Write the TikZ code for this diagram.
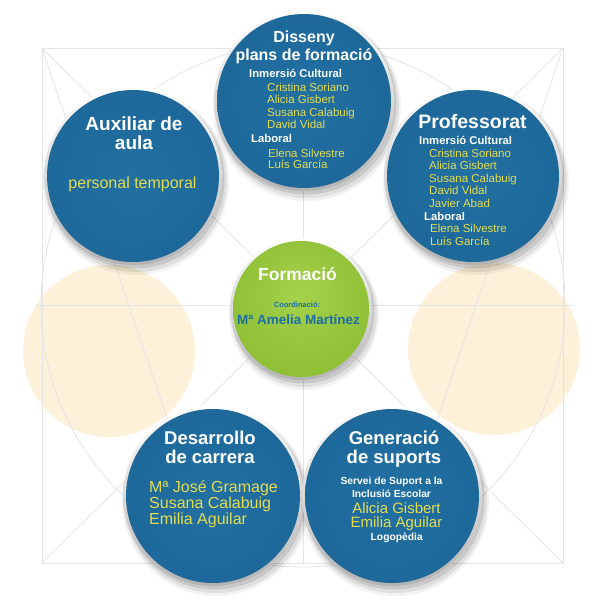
\documentclass[tikz,border=0pt]{standalone}
\usepackage{fontspec}
\setmainfont{Liberation Sans}
\definecolor{btnA}{RGB}{34,112,163}
\definecolor{btnB}{RGB}{29,103,153}
\definecolor{btnC}{RGB}{20,76,118}
\definecolor{grnA}{RGB}{165,210,75}
\definecolor{grnB}{RGB}{140,190,52}
\definecolor{grnC}{RGB}{98,150,30}
\definecolor{nameyel}{RGB}{228,220,78}
\definecolor{peach}{RGB}{253,241,217}
\definecolor{bgline}{RGB}{228,228,228}
\definecolor{coordblue}{RGB}{28,110,165}
\pgfdeclareradialshading{bluedisk}{\pgfpoint{0bp}{0bp}}{color(0bp)=(btnA); color(28bp)=(btnB); color(44bp)=(btnB); color(50bp)=(btnC)}
\pgfdeclareradialshading{greendisk}{\pgfpoint{0bp}{6bp}}{color(0bp)=(grnA); color(30bp)=(grnB); color(44bp)=(grnB); color(52bp)=(grnC)}
\newcommand\btnbase[3]{%
  \fill[black,opacity=0.05] (#1+3,#2+6) circle[radius=#3pt+7pt];
  \fill[black,opacity=0.08] (#1+3,#2+5) circle[radius=#3pt+5pt];
  \fill[black,opacity=0.10] (#1+2,#2+3) circle[radius=#3pt+3.5pt];
  \shade[top color=white, bottom color=black!30] (#1,#2) circle[radius=#3pt+3pt];
}
\tikzset{
  blueball/.style={circle, inner sep=0pt, minimum size=#1, shading=bluedisk},
  greenball/.style={circle, inner sep=0pt, minimum size=#1, shading=greendisk},
  peachdisk/.style={fill=peach},
  bgl/.style={draw=bgline, line width=0.8pt},
  ttl/.style={text=white, font=\bfseries\fontsize{18.5}{19}\selectfont, align=center, anchor=base, inner sep=0pt},
  sub/.style={text=white, font=\bfseries\fontsize{11.3}{12}\selectfont, anchor=base west, inner sep=0pt},
  nm/.style={text=nameyel, font=\fontsize{11.5}{12.3}\selectfont, align=left, anchor=base west, inner sep=0pt},
  bignm/.style={text=nameyel, font=\fontsize{15}{13.6}\selectfont, inner sep=0pt},
  smw/.style={text=white, font=\bfseries\fontsize{10.3}{13.3}\selectfont, align=center, anchor=base, inner sep=0pt},
}
\begin{document}
\begin{tikzpicture}[x=1pt,y=-1pt]
\useasboundingbox (0,0) rectangle (600,600);
\fill[white] (0,0) rectangle (600,600);
% background decoration
\fill[peachdisk] (109,351) circle[radius=86pt];
\fill[peachdisk] (494,349) circle[radius=86pt];
\draw[bgl] (42,48) rectangle (563,563);
\draw[bgl] (36,305) -- (574,305);
\draw[bgl] (303,48) -- (303,563);
\draw[bgl] (42,48) -- (563,563);
\draw[bgl] (563,48) -- (42,563);
\draw[bgl] (42,48) -- (216,563);
\draw[bgl] (563,48) -- (389,563);
\draw[bgl] (303,305) circle[radius=262pt];
% buttons
\btnbase{304}{101}{87}
\node[blueball=174pt] (dis) at (304,101) {};
\btnbase{133}{176}{86}
\node[blueball=172pt] (aux) at (133,176) {};
\btnbase{473}{176}{86}
\node[blueball=172pt] (pro) at (473,176) {};
\btnbase{213}{496}{87}
\node[blueball=174pt] (des) at (213,496) {};
\btnbase{392}{496}{87}
\node[blueball=174pt] (gen) at (392,496) {};
\btnbase{301}{309}{68}
\node[greenball=136pt] (for) at (301,309) {};
% Disseny (anchor base = last line)
\node[ttl, font=\bfseries\fontsize{16}{18.3}\selectfont] (disT) at (304,60.8) {Disseny\\plans de formació};
\node[sub] (disS1) at (249,77) {Inmersió Cultural};
\node[nm] (disN1) at (267,128.4) {Cristina Soriano\\Alicia Gisbert\\Susana Calabuig\\David Vidal};
\node[sub] (disS2) at (251,142.5) {Laboral};
\node[nm, font=\fontsize{11.5}{11.5}\selectfont] (disN2) at (268,168.5) {Elena Silvestre\\Luís García};
% Professorat
\node[ttl, font=\bfseries\fontsize{19.5}{19}\selectfont] (proT) at (472.5,128.5) {Professorat};
\node[sub] (proS1) at (419,144) {Inmersió Cultural};
\node[nm, font=\fontsize{11.5}{12.6}\selectfont] (proN1) at (429,207.4) {Cristina Soriano\\Alicia Gisbert\\Susana Calabuig\\David Vidal\\Javier Abad};
\node[sub] (proS2) at (424,220.5) {Laboral};
\node[nm, font=\fontsize{11.5}{12.7}\selectfont] (proN2) at (430,245) {Elena Silvestre\\Luís García};
% Auxiliar
\node[ttl, font=\bfseries\fontsize{19}{18.7}\selectfont] (auxT) at (134,149.2) {Auxiliar de\\aula};
\node[bignm, font=\fontsize{16}{16}\selectfont, anchor=base] (auxN) at (132.5,188.5) {personal temporal};
% Formacio
\node[ttl, font=\bfseries\fontsize{17.5}{18}\selectfont] (forT) at (297.5,280.5) {Formació};
\node[text=coordblue, font=\bfseries\fontsize{7.5}{8}\selectfont, anchor=base, inner sep=0pt] (forC) at (297,307.5) {Coordinació:};
\node[text=coordblue, font=\bfseries\fontsize{13.5}{14}\selectfont, anchor=base, inner sep=0pt] (forN) at (298.5,324.5) {Mª Amelia Martínez};
% Desarrollo
\node[ttl] (desT) at (210,463.5) {Desarrollo\\de carrera};
\node[bignm, font=\fontsize{16}{13.8}\selectfont, align=left, anchor=base west] (desN) at (149,524.6) {Mª José Gramage\\Susana Calabuig\\Emilia Aguilar};
% Generacio
\node[ttl] (genT) at (394,463.5) {Generació\\de suports};
\node[smw] (genS) at (391.5,497.8) {Servei de Suport a la\\Inclusió Escolar};
\node[bignm, align=center, anchor=base] (genN) at (396.5,527.1) {Alicia Gisbert\\Emilia Aguilar};
\node[smw] (genL) at (396.7,540.5) {Logopèdia};
\end{tikzpicture}
\end{document}
